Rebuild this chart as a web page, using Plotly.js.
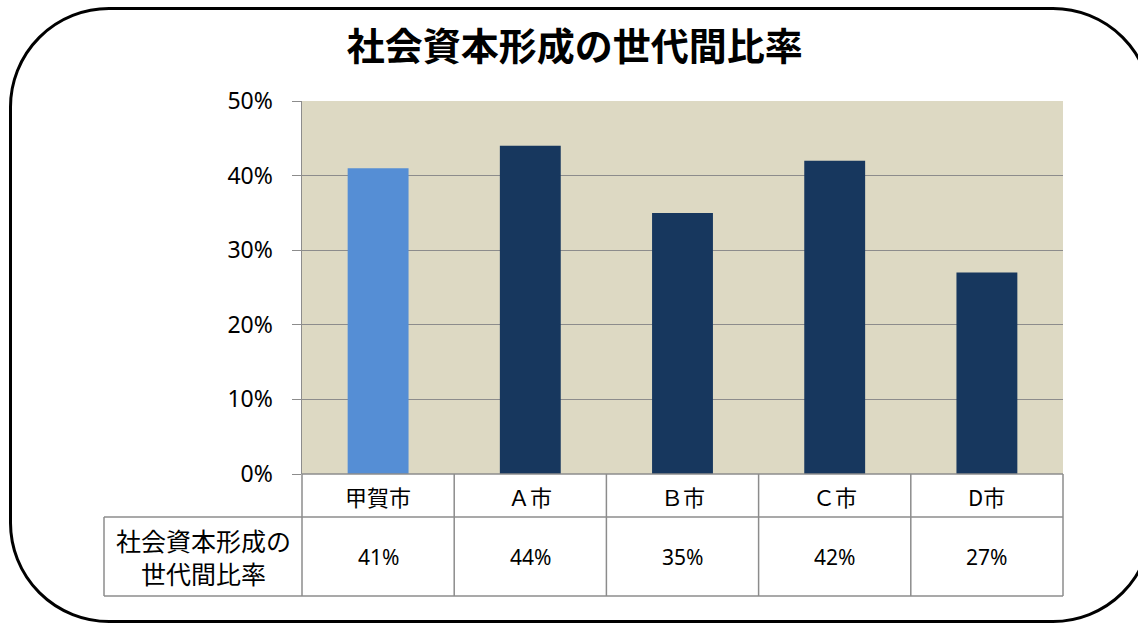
<!DOCTYPE html>
<html>
<head>
<meta charset="utf-8">
<script src="https://cdn.plot.ly/plotly-3.0.1.min.js"></script>
<style>
    html, body { margin: 0; padding: 0; background: #ffffff; overflow: hidden; }
    #frame {
        position: absolute; left: 9px; top: 7px; width: 1138px; height: 610px;
        border: 3px solid #000000; border-radius: 100px; box-sizing: content-box;
    }
    #chartDiv { position: absolute; left: 0; top: 0; width: 1138px; height: 626px; }
</style>
</head>
<body>
<div id="frame"></div>
<div id="chartDiv"></div>
<script>
"use strict";

const chartTitle = "社会資本形成の世代間比率";
const cities = ["甲賀市", "Ａ市", "Ｂ市", "Ｃ市", "D市"];
const ratioValues = [41, 44, 35, 42, 27];
const rowLabel = "社会資本形成の<br>世代間比率";
const highlightCity = "甲賀市";

const plotLeft = 302, plotRight = 1063, plotTop = 101, plotBottom = 474;
const plotWidth = plotRight - plotLeft;
const plotHeight = plotBottom - plotTop;

// table rows in paper units below the x axis
const headerBottom = (plotBottom - 517) / plotHeight;
const tableBottom = (plotBottom - 596) / plotHeight;
const labelLeft = (104 - plotLeft) / plotWidth;

const barColors = cities.map(function (c) {
    return c === highlightCity ? "#558ed5" : "#17375e";
});

const data = [
    {
        x: cities,
        y: ratioValues,
        type: "bar",
        width: 0.4,
        marker: { color: barColors },
        hoverinfo: "x+y"
    }
];

const gridColor = "#8c8c8c";
const tableLine = { color: gridColor, width: 1.5 };
const shapes = [];
// header row top and bottom
shapes.push({ type: "line", xref: "paper", yref: "paper", x0: 0, x1: 1, y0: 0, y1: 0, line: tableLine });
shapes.push({ type: "line", xref: "paper", yref: "paper", x0: labelLeft, x1: 1, y0: headerBottom, y1: headerBottom, line: tableLine });
// data row bottom and left edge
shapes.push({ type: "line", xref: "paper", yref: "paper", x0: labelLeft, x1: 1, y0: tableBottom, y1: tableBottom, line: tableLine });
shapes.push({ type: "line", xref: "paper", yref: "paper", x0: labelLeft, x1: labelLeft, y0: headerBottom, y1: tableBottom, line: tableLine });
// column separators
for (let i = 0; i <= cities.length; i++) {
    shapes.push({
        type: "line", xref: "paper", yref: "paper",
        x0: i / cities.length, x1: i / cities.length, y0: 0, y1: tableBottom,
        line: tableLine
    });
}

const annotations = [];
cities.forEach(function (c, i) {
    annotations.push({
        x: c, xref: "x", y: headerBottom / 2, yref: "paper", yanchor: "middle",
        text: c, showarrow: false,
        font: { family: "Noto Sans CJK JP", size: 22, color: "#000000" }
    });
    annotations.push({
        x: c, xref: "x", y: (headerBottom + tableBottom) / 2, yref: "paper", yanchor: "middle",
        text: ratioValues[i] + "%", showarrow: false,
        font: { family: "Noto Sans", size: 21, color: "#000000" }
    });
});
annotations.push({
    x: labelLeft / 2, xref: "paper", xanchor: "center",
    y: (headerBottom + tableBottom) / 2, yref: "paper", yanchor: "middle",
    text: rowLabel, showarrow: false,
    font: { family: "Noto Sans CJK JP", size: 25, color: "#000000" }
});

const layout = {
    width: 1138,
    height: 626,
    margin: { l: plotLeft, r: 1138 - plotRight, t: plotTop, b: 626 - plotBottom, pad: 0 },
    paper_bgcolor: "rgba(0,0,0,0)",
    plot_bgcolor: "#ddd9c3",
    showlegend: false,
    title: {
        text: "<b>" + chartTitle + "</b>",
        xref: "container", x: 0.505, xanchor: "center",
        yref: "container", y: 1 - 47 / 626, yanchor: "middle",
        font: { family: "Noto Sans CJK JP", size: 38, color: "#000000" }
    },
    xaxis: {
        type: "category",
        range: [-0.5, cities.length - 0.5],
        showticklabels: false,
        ticks: "",
        showgrid: false,
        zeroline: false,
        showline: false,
        fixedrange: true
    },
    yaxis: {
        range: [0, 50],
        dtick: 10,
        ticksuffix: "%",
        ticks: "outside",
        ticklen: 9,
        tickcolor: gridColor,
        ticklabelstandoff: 14,
        showline: true,
        linecolor: gridColor,
        linewidth: 1.5,
        gridcolor: gridColor,
        gridwidth: 1.2,
        zeroline: false,
        tickfont: { family: "Noto Sans", size: 23, color: "#000000" },
        fixedrange: true
    },
    shapes: shapes,
    annotations: annotations
};

Plotly.newPlot("chartDiv", data, layout, { displayModeBar: false, staticPlot: true });
</script>
</body>
</html>
